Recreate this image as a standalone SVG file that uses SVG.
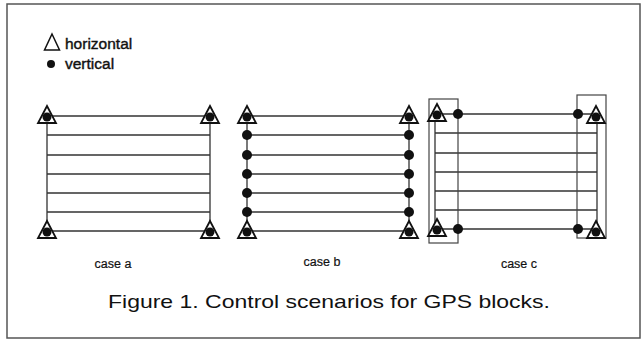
<svg xmlns="http://www.w3.org/2000/svg" width="643" height="340" viewBox="0 0 643 340">
<style>
.ln{stroke:#333;stroke-width:1.3;fill:none}
.box{stroke:#444;stroke-width:1.2;fill:none}
.tri{fill:#fff;stroke:#111;stroke-width:1.8}
.dot{fill:#111}
.t{font-family:"Liberation Sans",Arial,sans-serif;fill:#111}
.lg{font-size:15.5px;stroke:#111;stroke-width:0.4}
.cs{font-size:12.5px;stroke:#111;stroke-width:0.2}
</style>
<defs>
<g id="tr"><path class="tri" d="M0,-10 L9,7 L-9,7 Z"/><circle class="dot" cx="0" cy="1" r="4.5"/></g>
<circle id="vd" class="dot" r="5"/>
</defs>
<rect x="7" y="4" width="633" height="334" fill="#fff" stroke="#555" stroke-width="1.5"/>
<g id="legend">
<path class="tri" d="M52,34 L59.5,50 L44.5,50 Z" style="stroke-width:1.5"/>
<text class="t lg" x="65" y="49">horizontal</text>
<circle class="dot" cx="51" cy="64" r="4"/>
<text class="t lg" x="65" y="69">vertical</text>
</g>
<g id="connectors">
<g id="case-a-lines">
<path class="ln" d="M47,116V231M210,116V231M47,116H210M47,135H210M47,155H210M47,174H210M47,193H210M47,212H210M47,231H210"/>
</g>
<g id="case-b-lines">
<path class="ln" d="M247,116V231M409,116V231M247,116H409M247,135H409M247,155H409M247,174H409M247,193H409M247,212H409M247,231H409"/>
</g>
<g id="case-c-lines">
<path class="ln" d="M435,114V229M597,114V229M435,114H597M435,133H597M435,153H597M435,172H597M435,191H597M435,210H597M435,229H597"/>
<rect class="box" x="429" y="99" width="29" height="144"/>
<rect class="box" x="577" y="95" width="29" height="143"/>
</g>
</g>
<g id="case-a">
<use href="#tr" x="47" y="116"/><use href="#tr" x="210" y="116"/>
<use href="#tr" x="47" y="231"/><use href="#tr" x="210" y="231"/>
<text class="t cs" x="113" y="268" text-anchor="middle">case a</text>
</g>
<g id="case-b">
<use href="#vd" x="247" y="135"/><use href="#vd" x="247" y="155"/><use href="#vd" x="247" y="174"/><use href="#vd" x="247" y="193"/><use href="#vd" x="247" y="212"/>
<use href="#vd" x="409" y="135"/><use href="#vd" x="409" y="155"/><use href="#vd" x="409" y="174"/><use href="#vd" x="409" y="193"/><use href="#vd" x="409" y="212"/>
<use href="#tr" x="247" y="116"/><use href="#tr" x="409" y="116"/>
<use href="#tr" x="247" y="231"/><use href="#tr" x="409" y="231"/>
<text class="t cs" x="322" y="266" text-anchor="middle">case b</text>
</g>
<g id="case-c">
<use href="#vd" x="458" y="114"/><use href="#vd" x="578" y="114"/>
<use href="#vd" x="458" y="229"/><use href="#vd" x="578" y="229"/>
<use href="#tr" x="437" y="114"/><use href="#tr" x="596" y="116"/>
<use href="#tr" x="437" y="229"/><use href="#tr" x="596" y="231"/>
<text class="t cs" x="519" y="268" text-anchor="middle">case c</text>
</g>
<g id="caption">
<text class="t" x="108" y="308" font-size="18.5" fill="#222" textLength="442" lengthAdjust="spacingAndGlyphs">Figure 1. Control scenarios for GPS blocks.</text>
</g>
</svg>
